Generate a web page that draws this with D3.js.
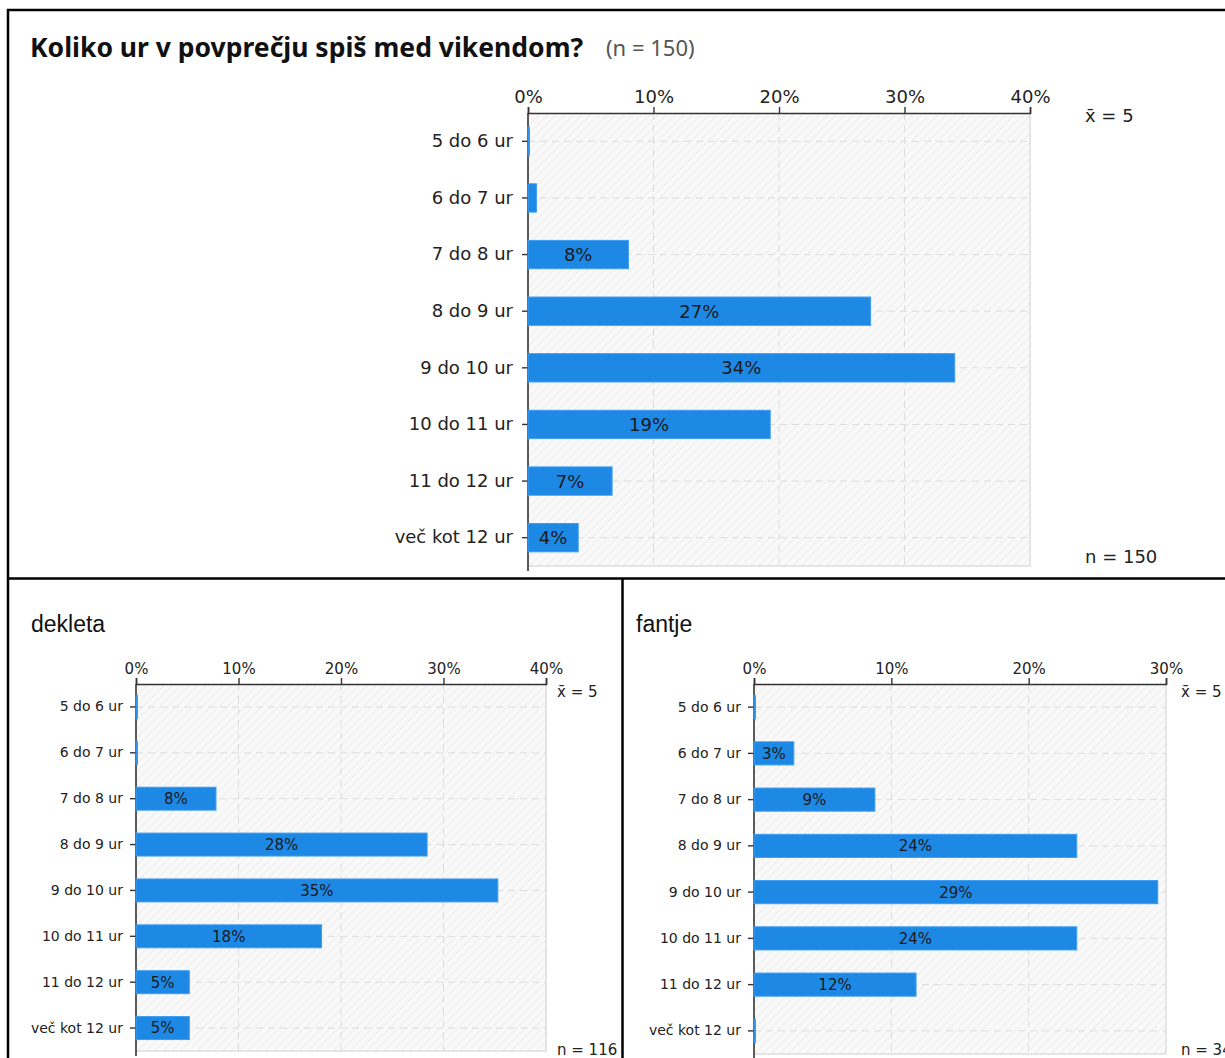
<!DOCTYPE html>
<html>
<head>
<meta charset="utf-8">
<script src="https://cdn.jsdelivr.net/npm/d3@7"></script>
<style>
  body { margin: 0; background: #fff; }
  svg { display: block; }
</style>
</head>
<body>
<svg id="chart" width="1225" height="1058"></svg>
<script>
'use strict';

// Data.
var categories = ["5 do 6 ur", "6 do 7 ur", "7 do 8 ur", "8 do 9 ur", "9 do 10 ur", "10 do 11 ur", "11 do 12 ur", "več kot 12 ur"];
var allValues = [0, 0.67, 8.0, 27.3, 34.0, 19.3, 6.7, 4.0];     // percent, n = 150
var girlsValues = [0, 0, 7.8, 28.4, 35.3, 18.1, 5.2, 5.2];      // percent, n = 116
var boysValues = [0, 2.9, 8.8, 23.5, 29.4, 23.5, 11.8, 0];      // percent, n = 34
var allTicks = [0, 10, 20, 30, 40];
var girlsTicks = [0, 10, 20, 30, 40];
var boysTicks = [0, 10, 20, 30];

var titleText = "Koliko ur v povprečju spiš med vikendom?";
var titleN = "(n = 150)";
var meanText = "x\u0304 = 5";

var BAR = "#1e88e5";
var FONT = "'DejaVu Sans', Verdana, sans-serif";

var svg = d3.select("#chart");

// Hatched plot background.
var defs = svg.append("defs");
var hatch = defs.append("pattern")
    .attr("id", "hatch")
    .attr("patternUnits", "userSpaceOnUse")
    .attr("width", 6)
    .attr("height", 6)
    .attr("patternTransform", "rotate(45)");
hatch.append("rect")
    .attr("width", 6)
    .attr("height", 6)
    .attr("fill", "#f9f9f9");
hatch.append("line")
    .attr("x1", 0).attr("y1", 0)
    .attr("x2", 0).attr("y2", 6)
    .attr("stroke", "#e9e9e9")
    .attr("stroke-width", 1.5);

// Panel frames.
svg.append("path")
    .attr("d", "M8,1058 V10 H1225 M8,578.5 H1225 M622.5,578.5 V1058")
    .attr("fill", "none")
    .attr("stroke", "#000")
    .attr("stroke-width", 2.5);

// Title.
svg.append("text")
    .attr("x", 30)
    .attr("y", 57)
    .style("font-family", "'Noto Sans', sans-serif")
    .style("font-size", "26.5px")
    .style("font-weight", 700)
    .style("fill", "#111")
    .text(titleText);
svg.append("text")
    .attr("x", 606)
    .attr("y", 56)
    .style("font-family", "'Noto Sans', sans-serif")
    .style("font-size", "22px")
    .style("fill", "#555")
    .text(titleN);

// Sub titles.
svg.append("text")
    .attr("x", 31).attr("y", 632)
    .style("font-family", "'Liberation Sans', Arial, sans-serif")
    .style("font-size", "23px")
    .style("fill", "#111")
    .text("dekleta");
svg.append("text")
    .attr("x", 636).attr("y", 632)
    .style("font-family", "'Liberation Sans', Arial, sans-serif")
    .style("font-size", "23px")
    .style("fill", "#111")
    .text("fantje");

function drawChart(opt) {
    var g = svg.append("g");

    var rows = opt.values.map(function (v, i) { return { cat: categories[i], value: v }; });

    var x = d3.scaleLinear()
        .domain([0, opt.ticks[opt.ticks.length - 1]])
        .range([opt.left, opt.right]);

    var y = d3.scaleBand()
        .domain(categories)
        .range([opt.top, opt.bottom])
        .paddingInner(0.5)
        .paddingOuter(0.25);

    // background
    g.append("rect")
        .attr("x", opt.left)
        .attr("y", opt.top)
        .attr("width", opt.right - opt.left)
        .attr("height", opt.bottom - opt.top)
        .attr("fill", "url(#hatch)");

    // right + bottom border
    g.append("path")
        .attr("d", "M" + opt.right + "," + opt.top + " V" + opt.bottom + " H" + opt.left)
        .attr("fill", "none")
        .attr("stroke", "#ddd")
        .attr("stroke-width", 1.5);

    // vertical grid
    g.selectAll(".vgrid")
        .data(opt.ticks.slice(1, -1))
        .enter().append("line")
        .attr("x1", function (d) { return x(d); })
        .attr("x2", function (d) { return x(d); })
        .attr("y1", opt.top)
        .attr("y2", opt.bottom)
        .attr("stroke", "#dcdcdc")
        .attr("stroke-dasharray", "7,5");

    // horizontal grid
    g.selectAll(".hgrid")
        .data(categories)
        .enter().append("line")
        .attr("x1", opt.left)
        .attr("x2", opt.right)
        .attr("y1", function (d) { return y(d) + y.bandwidth() / 2; })
        .attr("y2", function (d) { return y(d) + y.bandwidth() / 2; })
        .attr("stroke", "#dcdcdc")
        .attr("stroke-dasharray", "7,5");

    // x axis (top)
    var xAxis = g.append("g")
        .attr("transform", "translate(0," + opt.top + ")")
        .call(d3.axisTop(x).tickValues(opt.ticks).tickSize(6).tickPadding(4)
            .tickFormat(function (d) { return d + "%"; }));
    xAxis.select(".domain").attr("stroke", "#333").attr("stroke-width", 1.6);
    xAxis.selectAll(".tick line").attr("stroke", "#333").attr("stroke-width", 1.4);
    xAxis.selectAll("text")
        .style("font-family", FONT)
        .style("font-size", opt.fs + "px")
        .style("fill", "#222");

    // y axis (left)
    var yAxis = g.append("g")
        .attr("transform", "translate(" + opt.left + ",0)")
        .call(d3.axisLeft(y).tickSize(6).tickPadding(opt.pad).tickSizeOuter(0));
    yAxis.select(".domain").attr("stroke", "#333").attr("stroke-width", 1.6)
        .attr("d", "M0," + opt.top + " V" + (opt.bottom + 5));
    yAxis.selectAll(".tick line").attr("stroke", "#333").attr("stroke-width", 1.4);
    yAxis.selectAll("text")
        .style("font-family", FONT)
        .style("font-size", opt.yfs + "px")
        .style("fill", "#222");

    // bars (drawn over the axis line, so zero values show as a thin blue line)
    g.selectAll(".bar")
        .data(rows)
        .enter().append("rect")
        .attr("x", x(0))
        .attr("y", function (d) { return y(d.cat); })
        .attr("width", function (d) { return Math.max(x(d.value) - x(0), 1.5); })
        .attr("height", y.bandwidth())
        .attr("fill", BAR)
        .attr("stroke", "#3d9cf0")
        .attr("stroke-width", 1);

    // bar labels
    g.selectAll(".lab")
        .data(rows.filter(function (d) { return d.value >= 1.5; }))
        .enter().append("text")
        .attr("x", function (d) { return (x(0) + x(d.value)) / 2; })
        .attr("y", function (d) { return y(d.cat) + y.bandwidth() / 2; })
        .attr("dy", "0.36em")
        .attr("text-anchor", "middle")
        .style("font-family", FONT)
        .style("font-size", opt.fs + "px")
        .style("fill", "#1a1a1a")
        .text(function (d) { return Math.round(d.value) + "%"; });

    // mean and n
    g.append("text")
        .attr("x", opt.noteX)
        .attr("y", opt.meanY)
        .style("font-family", FONT)
        .style("font-size", opt.fs + "px")
        .style("fill", "#222")
        .text(meanText);
    g.append("text")
        .attr("x", opt.noteX)
        .attr("y", opt.nY)
        .style("font-family", FONT)
        .style("font-size", opt.fs + "px")
        .style("fill", "#222")
        .text("n = " + opt.n);
}

drawChart({ values: allValues, ticks: allTicks, n: 150,
    left: 528, right: 1030, top: 113, bottom: 566, fs: 18, yfs: 18, pad: 9,
    noteX: 1085, meanY: 122, nY: 563 });

drawChart({ values: girlsValues, ticks: girlsTicks, n: 116,
    left: 136, right: 546, top: 684, bottom: 1051, fs: 15, yfs: 14, pad: 7,
    noteX: 557, meanY: 697, nY: 1055 });

drawChart({ values: boysValues, ticks: boysTicks, n: 34,
    left: 754, right: 1166, top: 684, bottom: 1054, fs: 15, yfs: 14, pad: 7,
    noteX: 1181, meanY: 697, nY: 1055 });
</script>
</body>
</html>
